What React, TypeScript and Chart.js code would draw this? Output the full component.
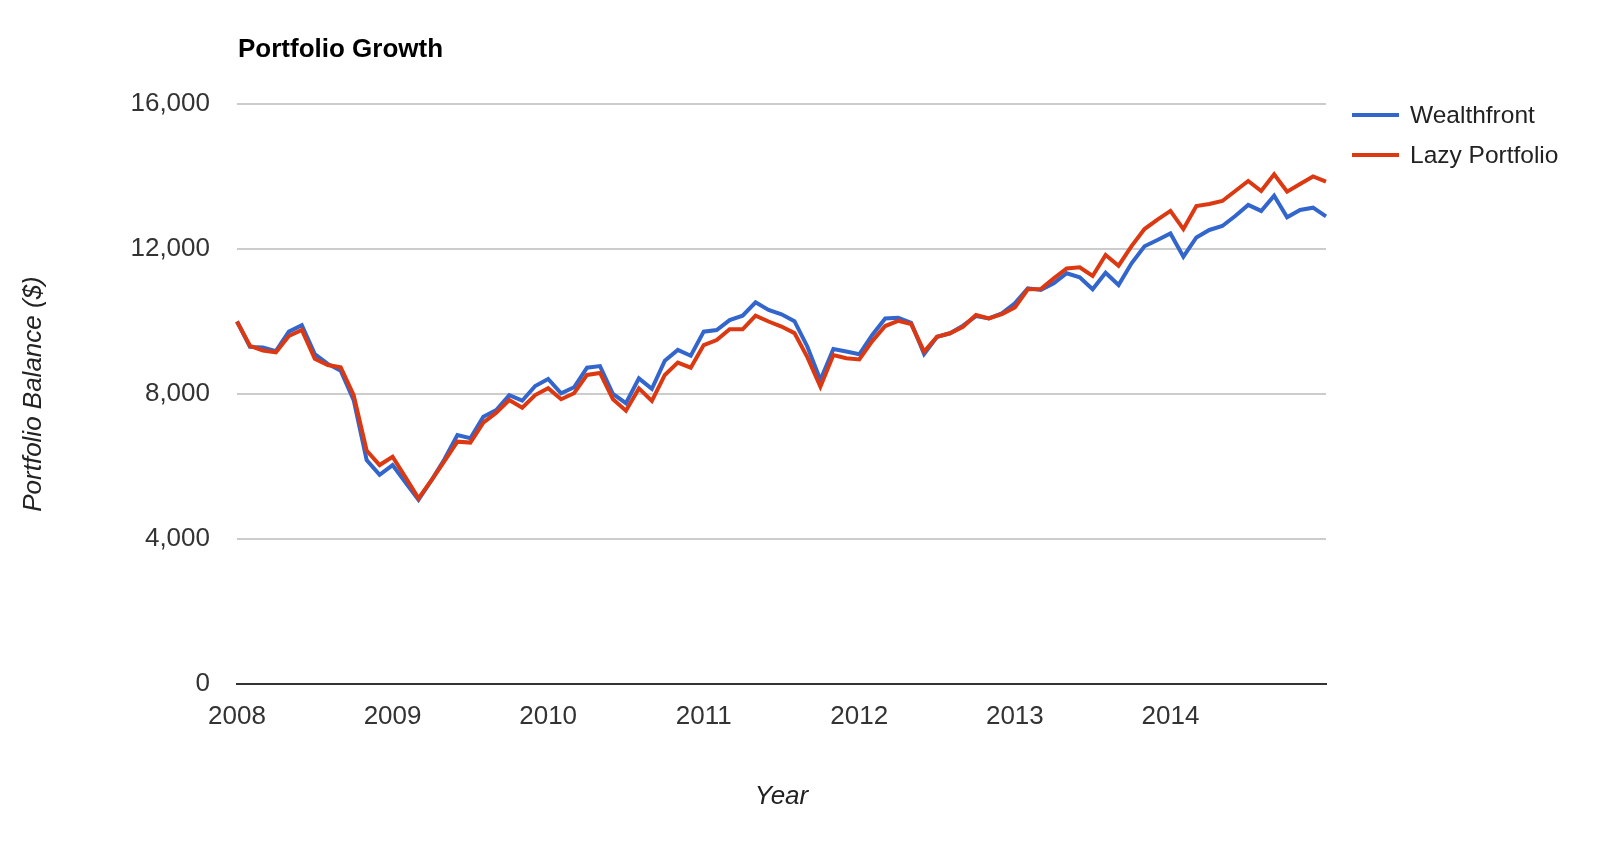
import { useEffect, useRef } from 'react';
import { Chart, registerables } from 'chart.js';

Chart.register(...registerables);

const TITLE = 'Portfolio Growth';
const Y_TITLE = 'Portfolio Balance ($)';
const X_TITLE = 'Year';

const YEARS = ['2008', '2009', '2010', '2011', '2012', '2013', '2014'];
const MONTHS = ['01', '02', '03', '04', '05', '06', '07', '08', '09', '10', '11', '12'];
const DATES = [...YEARS.flatMap((y) => MONTHS.map((m) => `${y}-${m}`)), '2015-01'];

const WEALTHFRONT = [
  10000, 9300, 9280, 9180, 9720, 9900, 9100, 8830, 8640, 7830,
  6180, 5770, 6040, 5560, 5080, 5620, 6200, 6870, 6780, 7370,
  7560, 7970, 7815, 8220, 8415, 8020, 8185, 8725, 8770, 8000,
  7745, 8430, 8140, 8920, 9215, 9055, 9720, 9765, 10040, 10160,
  10530, 10320, 10200, 10010, 9305, 8385, 9240, 9170, 9095, 9630,
  10085, 10105, 9965, 9105, 9580, 9675, 9885, 10150, 10085, 10225,
  10500, 10915, 10870, 11055, 11330, 11220, 10890, 11345, 11005, 11605,
  12075, 12250, 12430, 11790, 12320, 12525, 12635, 12910, 13215, 13050,
  13470, 12875, 13075, 13140, 12900,
];

const LAZY_PORTFOLIO = [
  10000, 9330, 9200, 9150, 9600, 9770, 8970, 8800, 8740, 7970,
  6440, 6040, 6270, 5700, 5120, 5620, 6150, 6685, 6660, 7210,
  7485, 7835, 7620, 7970, 8160, 7855, 8020, 8525, 8580, 7855,
  7540, 8155, 7810, 8525, 8865, 8725, 9350, 9490, 9785, 9785,
  10160, 10000, 9860, 9680, 9010, 8200, 9075, 8985, 8955, 9460,
  9875, 10020, 9930, 9170, 9580, 9675, 9855, 10180, 10085, 10205,
  10390, 10890, 10895, 11190, 11465, 11495, 11255, 11835, 11540, 12080,
  12550, 12810, 13050, 12550, 13185, 13240, 13325, 13600, 13875, 13600,
  14060, 13580, 13795, 14000, 13860,
];

const SERIES_NAMES = ['Wealthfront', 'Lazy Portfolio'];
const SERIES_COLORS = ['#3366cc', '#dc3912'];
const Y_MIN = 0;
const Y_MAX = 16000;
const Y_STEP = 4000;

const FONT = '"Liberation Sans", Arial, Helvetica, sans-serif';

const overlayPlugin = {
  id: 'overlay',
  afterDraw(chart: any) {
    const ctx = chart.ctx;
    ctx.save();
    ctx.font = `bold 26px ${FONT}`;
    ctx.fillStyle = '#000000';
    ctx.textAlign = 'left';
    ctx.textBaseline = 'alphabetic';
    ctx.fillText(TITLE, 238, 57);

    chart.data.datasets.forEach((ds: any, i: number) => {
      const y = 115 + i * 40;
      ctx.strokeStyle = ds.borderColor;
      ctx.lineWidth = 4;
      ctx.beginPath();
      ctx.moveTo(1352, y);
      ctx.lineTo(1399, y);
      ctx.stroke();
      ctx.font = `24.5px ${FONT}`;
      ctx.fillStyle = '#222222';
      ctx.textBaseline = 'middle';
      ctx.fillText(ds.label, 1410, y + 1);
    });
    ctx.restore();
  },
};

export default function App() {
  const canvasRef = useRef<HTMLCanvasElement | null>(null);

  useEffect(() => {
    const canvas = canvasRef.current;
    if (!canvas) return;
    const chart = new Chart(canvas, {
      type: 'line',
      data: {
        labels: DATES,
        datasets: [
          {
            label: SERIES_NAMES[0],
            data: WEALTHFRONT,
            borderColor: SERIES_COLORS[0],
            backgroundColor: SERIES_COLORS[0],
            borderWidth: 4,
            pointRadius: 0,
            tension: 0,
            fill: false,
            order: 1,
          },
          {
            label: SERIES_NAMES[1],
            data: LAZY_PORTFOLIO,
            borderColor: SERIES_COLORS[1],
            backgroundColor: SERIES_COLORS[1],
            borderWidth: 4,
            pointRadius: 0,
            tension: 0,
            fill: false,
            order: 0,
          },
        ],
      },
      options: {
        responsive: false,
        animation: false,
        devicePixelRatio: 1,
        layout: { padding: { left: 0, top: 104, right: 274, bottom: 0 } },
        plugins: {
          legend: { display: false },
          title: { display: false },
          tooltip: { enabled: false },
        },
        scales: {
          x: {
            type: 'category',
            offset: false,
            grid: { display: false, drawTicks: false },
            border: { display: true, color: '#333333', width: 2 },
            ticks: {
              autoSkip: false,
              maxRotation: 0,
              minRotation: 0,
              padding: 17,
              color: '#333333',
              font: { family: FONT, size: 26 },
              callback: (_v: any, index: number) =>
                index % 12 === 0 && index < DATES.length - 1 ? DATES[index].slice(0, 4) : '',
            },
            title: {
              display: true,
              text: X_TITLE,
              color: '#222222',
              font: { family: FONT, size: 26, style: 'italic' },
              padding: { top: 0, bottom: 35 },
            },
            afterFit: (scale: any) => {
              scale.height = 163;
            },
          },
          y: {
            min: Y_MIN,
            max: Y_MAX,
            grid: { color: '#cccccc', lineWidth: 2, drawTicks: false },
            border: { display: false },
            ticks: {
              stepSize: Y_STEP,
              padding: 27,
              color: '#333333',
              font: { family: FONT, size: 26 },
              callback: (v: any) => Number(v).toLocaleString('en-US'),
            },
            title: {
              display: true,
              text: Y_TITLE,
              color: '#222222',
              font: { family: FONT, size: 26, style: 'italic' },
              padding: { top: 18, bottom: 0 },
            },
            afterFit: (scale: any) => {
              scale.width = 237;
            },
          },
        },
      },
      plugins: [overlayPlugin],
    });
    return () => chart.destroy();
  }, []);

  return (
    <div style={{ position: 'absolute', left: 0, top: 0, width: 1600, height: 847, background: '#ffffff' }}>
      <canvas ref={canvasRef} width={1600} height={847} style={{ display: 'block', width: 1600, height: 847 }} />
    </div>
  );
}
